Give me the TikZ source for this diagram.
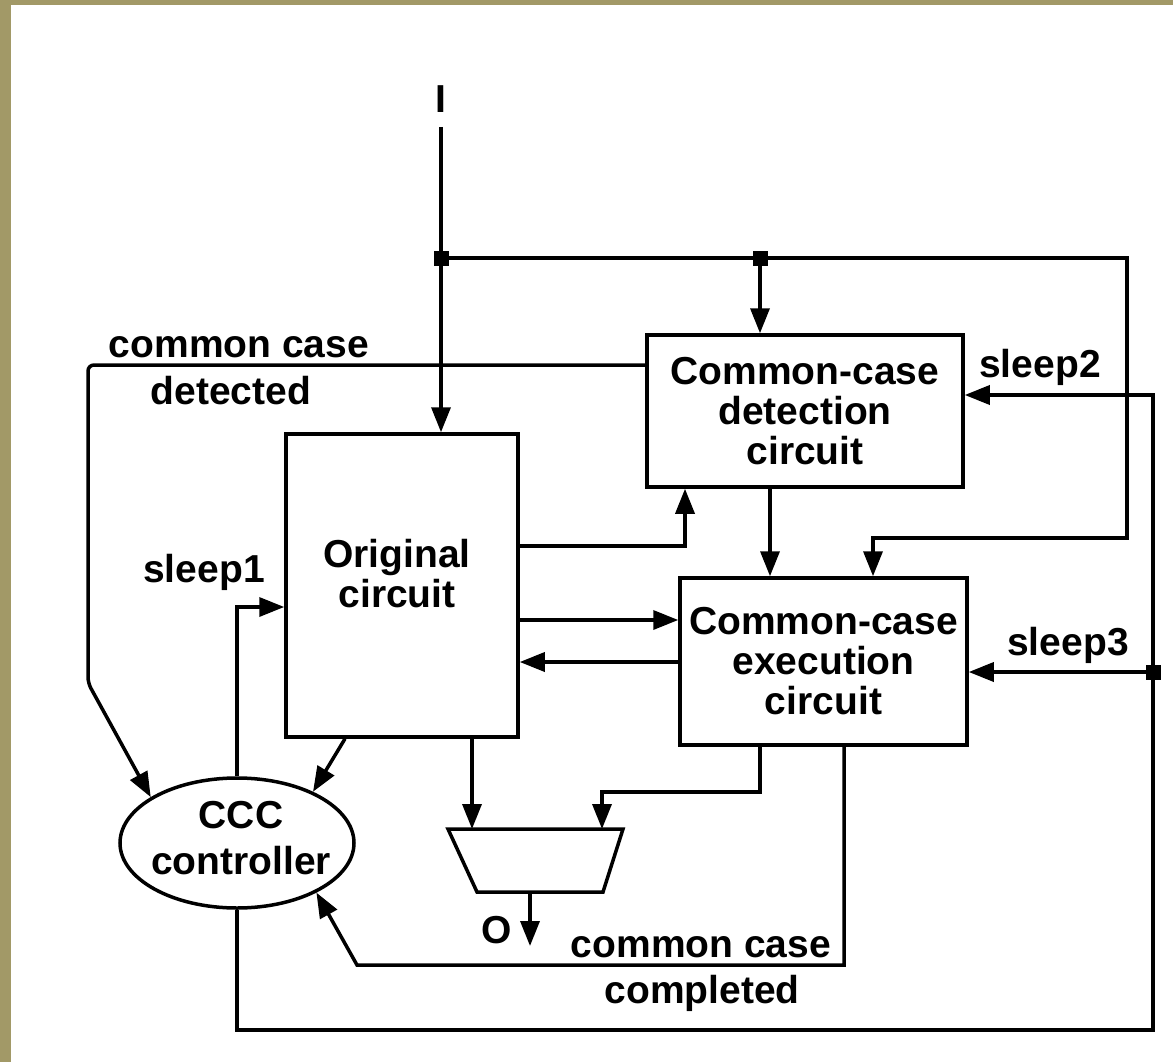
\documentclass[tikz,border=0pt]{standalone}
\usepackage{fontspec}
\setmainfont{Liberation Sans}
\usetikzlibrary{arrows.meta,shapes.geometric}
\definecolor{bgolive}{RGB}{162,153,103}
\begin{document}
\begin{tikzpicture}[x=1pt,y=-1pt,
  wire/.style={line width=3.5pt,line join=miter},
  arr/.style={wire,-{Triangle[length=25pt,width=19pt]}},
  lbl/.style={font=\fontsize{39pt}{40pt}\selectfont\bfseries,inner sep=0pt,align=center},
  boxnode/.style={draw,line width=3.5pt,rectangle,inner sep=0pt,lbl},
  dot/.style={fill=black,rectangle,minimum size=15pt,inner sep=0pt}
]
\useasboundingbox (0,0) rectangle (1173,1062);
\fill[white] (0,0) rectangle (1173,1062);
\fill[bgolive] (0,0) rectangle (11,1062);
\fill[bgolive] (0,0) rectangle (1173,5);

% blocks
\node[boxnode,minimum width=316pt,minimum height=152pt] (det) at (805,411) {Common-case\\detection\\circuit};
\node[boxnode,minimum width=287pt,minimum height=167pt] (exec) at (823.5,661.5) {Common-case\\execution\\circuit};
\node[boxnode,minimum width=232pt,minimum height=303pt] (orig) at (402,585.5) {};
\node[lbl] (origtext) at (397,574) {Original\\circuit};
\node[draw,ellipse,line width=3.5pt,minimum width=234pt,minimum height=130pt,inner sep=0pt] (ccc) at (237,843) {};
\node[lbl,font=\fontsize{39pt}{46pt}\selectfont\bfseries] (ccctext) at (241,838) {CCC\\controller};

% multiplexer
\coordinate (mtl) at (448,829);
\coordinate (mtr) at (623,829);
\coordinate (mbr) at (603,892);
\coordinate (mbl) at (477,892);
\draw[wire] (mtl) -- (mtr) -- (mbr) -- (mbl) -- cycle;
\coordinate (min1) at (472,829);
\coordinate (min2) at (602,829);
\coordinate (mout) at (530,892);
\coordinate (outend) at (530,946);

% junctions
\coordinate (in) at (441,127);
\node[dot] (j1) at (441,258) {};
\node[dot] (j2) at (760,258) {};
\node[dot] (j3) at (1153,672) {};

% labels
\node[lbl] (lI) at (441,99) {I};
\node[lbl] (lcc1) at (239,347) {common case};
\node[lbl] (lcc2) at (231,391) {detected};
\node[lbl] (ls1) at (204,572) {sleep1};
\node[lbl] (ls2) at (1040,367) {sleep2};
\node[lbl] (ls3) at (1068,645) {sleep3};
\node[lbl] (lO) at (497,930) {O};
\node[lbl] (lcd1) at (701,947) {common case};
\node[lbl] (lcd2) at (702,993) {completed};

% connectors
\draw[arr] (in) -- (orig.north -| in);
\draw[arr] (j1.center) -- (1127,258) -- (1127,538) -- (873,538) -- (exec.north -| 873,0);
\draw[arr] (j2.center) -- (det.north -| j2);
\draw[arr] (ccc.south) -- (ccc.south |- 0,1030) -- (1153,1030) -- (1153,395) -- (det.east |- 0,395);
\draw[arr] (j3.center) -- (exec.east |- j3);
\draw[arr] (ccc.north) -- (ccc.north |- 0,607) -- (orig.west |- 0,607);
\draw[arr,rounded corners=6pt] (det.west |- 0,365) -- (88,365) -- (88,683) -- (ccc.152);
\draw[arr] (orig.south -| 345,0) -- (ccc.34);
\draw[arr] (orig.east |- 0,546) -- (685,546) -- (det.south -| 685,0);
\draw[arr] (det.south -| 770,0) -- (exec.north -| 770,0);
\draw[arr] (orig.east |- 0,620) -- (exec.west |- 0,620);
\draw[arr] (exec.west |- 0,662) -- (orig.east |- 0,662);
\draw[arr] (orig.south -| min1) -- (min1);
\draw[arr] (exec.south -| 760,0) -- (760,792) -- (602,792) -- (min2);
\draw[arr] (mout) -- (outend);
\draw[arr] (exec.south -| 844,0) -- (844,965) -- (357,965) -- (ccc.-32);
\end{tikzpicture}
\end{document}
